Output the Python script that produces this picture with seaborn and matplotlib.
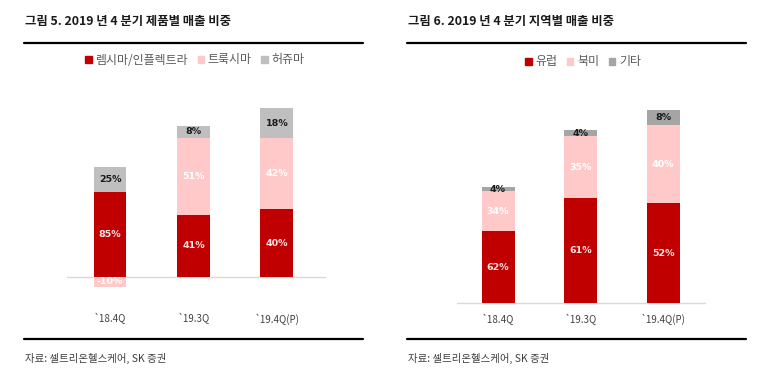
import numpy as np
import pandas as pd
import seaborn as sns
import matplotlib.pyplot as plt
from matplotlib.patches import Patch
from matplotlib.lines import Line2D

# 왼쪽: 제품별 (bar heights, labels = shares)
quarters = ['`18.4Q', '`19.3Q', '`19.4Q(P)']
prod_names = ['렘시마/인플렉트라', '트룩시마', '허쥬마']
remsima = [85, 62, 68]
truxima = [-10, 77, 71]
herzuma = [25, 12, 30]
prod_labels = [['85%', '41%', '40%'], ['-10%', '51%', '42%'], ['25%', '8%', '18%']]

# 오른쪽: 지역별
region_names = ['유럽', '북미', '기타']
europe = [72, 105, 100]
namerica = [40, 62, 78]
others = [4.5, 6.5, 15]
region_labels = [['62%', '61%', '52%'], ['34%', '35%', '40%'], ['4%', '4%', '8%']]

RED = '#C00000'
PINK = '#FFC9C9'
GRAY_L = '#BFBFBF'
GRAY_R = '#A5A5A5'

sns.set_style('white')
plt.rcParams['font.family'] = ['Noto Sans CJK KR', 'DejaVu Sans']

W, H = 771, 376
fig = plt.figure(figsize=(W / 100, H / 100), dpi=100)


def px_axes(x0, y0, x1, y1):
    # pixel box (top-left origin) -> axes
    return fig.add_axes([x0 / W, 1 - y1 / H, (x1 - x0) / W, (y1 - y0) / H])


def stacked(ax, series, colors, labels, label_colors, width):
    df = pd.DataFrame({'q': quarters})
    base_pos = np.zeros(len(quarters))
    for vals, col, labs, lc in zip(series, colors, labels, label_colors):
        vals = np.array(vals, dtype=float)
        bottom = np.where(vals >= 0, base_pos, 0)
        df['v'] = vals
        sns.barplot(data=df, x='q', y='v', ax=ax, color=col, width=width,
                    bottom=bottom, saturation=1, linewidth=0, errorbar=None)
        for i, (v, b, t) in enumerate(zip(vals, bottom, labs)):
            ax.text(i, b + v / 2, t, ha='center', va='center', fontsize=6.8,
                    fontweight='bold', color=lc, family='DejaVu Sans')
        base_pos = base_pos + np.clip(vals, 0, None)


def panel(ax, title, tx, colors, names, leg_x, leg_y, bl):
    for s in ['top', 'right', 'left', 'bottom']:
        ax.spines[s].set_visible(False)
    ax.set_yticks([])
    ax.set_xlabel('')
    ax.set_ylabel('')
    ax.axhline(0, xmin=bl[0], xmax=bl[1], color='#D9D9D9', lw=1, zorder=0)
    ax.tick_params(axis='x', length=0, labelsize=7, labelcolor='#404040')
    fig.text(tx / W, 1 - 22 / H, title, fontsize=8.9, fontweight='bold',
             ha='left', va='center', color='#1a1a1a')
    fig.add_artist(Line2D([(tx - 1) / W, (tx + 338) / W], [1 - 43 / H] * 2,
                          color='black', lw=1.6))
    fig.add_artist(Line2D([(tx - 1) / W, (tx + 338) / W], [1 - 339 / H] * 2,
                          color='black', lw=1.6))
    fig.text(tx / W, 1 - 358 / H, '자료: 셀트리온헬스케어, SK 증권', fontsize=7.5,
             ha='left', va='center', color='#404040')
    handles = [Patch(color=c, label=n) for c, n in zip(colors, names)]
    fig.legend(handles=handles, loc='center', ncol=3, frameon=False,
               bbox_to_anchor=(leg_x / W, 1 - leg_y / H), fontsize=8.6,
               labelcolor='#595959', handlelength=0.55, handleheight=0.55,
               handletextpad=0.3, columnspacing=0.8)


# left panel
ax1 = px_axes(60, 100, 330, 300)
stacked(ax1, [remsima, truxima, herzuma], [RED, PINK, GRAY_L], prod_labels,
        ['#FFE6E6', 'white', '#1a1a1a'], 0.395)
ax1.set_ylim(-23, 177)
ax1.set_xlim(-0.599, 2.635)
ax1.tick_params(axis='x', pad=9.5)
panel(ax1, '그림 5. 2019 년 4 분기 제품별 매출 비중', 25,
      [RED, PINK, GRAY_L], prod_names, 195, 60, (0.026, 0.98))

# right panel
ax2 = px_axes(440, 100, 720, 310)
stacked(ax2, [europe, namerica, others], [RED, PINK, GRAY_R], region_labels,
        ['#FFE6E6', 'white', '#1a1a1a'], 0.4)
ax2.set_ylim(-6.7, 203.3)
ax2.set_xlim(-0.703, 2.69)
ax2.tick_params(axis='x', pad=2.5)
panel(ax2, '그림 6. 2019 년 4 분기 지역별 매출 비중', 408,
      [RED, PINK, GRAY_R], region_names, 583, 62, (0.061, 0.946))

fig.savefig('out.png', dpi=100)
